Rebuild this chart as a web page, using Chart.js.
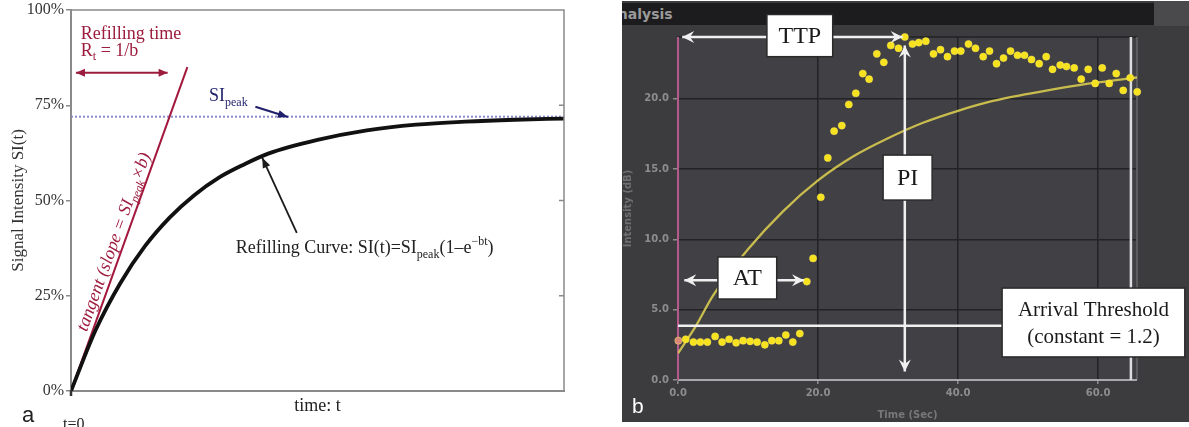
<!DOCTYPE html>
<html>
<head>
<meta charset="utf-8">
<script src="https://cdn.jsdelivr.net/npm/chart.js@4.4.0/dist/chart.umd.min.js"></script>
<style>
  html, body { margin: 0; padding: 0; background: #fff; }
  body { width: 1189px; height: 427px; position: relative; overflow: hidden; }
  #chartA { position: absolute; left: 0; top: 0; }
  #bgB { position: absolute; left: 622px; top: 1px; width: 567px; height: 421px; background: #3c3c3f; }
  #strip { position: absolute; left: 1154px; top: 1px; width: 35px; height: 25px; background: #4a4a4d; }
  #bar { position: absolute; left: 622px; top: 3px; width: 532px; height: 22px; background: #1c1c1e; overflow: hidden; }
  #bar span { position: absolute; left: -15px; top: 0; font: bold 14px 'DejaVu Sans', sans-serif; line-height: 22px; color: #9a9a9a; }
  #chartB { position: absolute; left: 622px; top: 0; }
</style>
</head>
<body>
<canvas id="chartA" width="600" height="427"></canvas>
<div id="bgB"></div>
<div id="strip"></div>
<div id="bar"><span>Analysis</span></div>
<canvas id="chartB" width="567" height="422"></canvas>
<script>
// ---- panel a: refilling model ----
const curveTime = [0, 0.25, 0.5, 0.75, 1, 1.25, 1.5, 1.75, 2, 2.5, 3, 3.5, 4, 4.5, 5];
const curveSI = [0, 16, 28.3, 38, 45.5, 51.4, 56, 59.4, 62.3, 65.9, 68.4, 69.9, 70.7, 71.2, 71.5];
const tangentTime = [0, 1.18];
const tangentSI = [0, 85];
const peakTime = [0, 5];
const peakSI = [72, 72];
const siTicks = [0, 25, 50, 75, 100];

// ---- panel b: measured time-intensity curve ----
const sampleTime = [0.05, 1.1, 2.2, 3.2, 4.2, 5.3, 6.3, 7.3, 8.3, 9.3, 10.3, 11.3, 12.4, 13.4, 14.4, 15.4, 16.4, 17.4,
  18.4, 19.3, 20.4, 21.4, 22.3, 23.4, 24.4, 25.4, 26.4, 27.3, 28.4, 29.4, 30.4, 31.5, 32.4, 33.5, 34.4, 35.4,
  36.5, 37.5, 38.5, 39.5, 40.4, 41.5, 42.5, 43.6, 44.5, 45.5, 46.5, 47.5, 48.5, 49.5, 50.5, 51.6, 52.6, 53.5,
  54.6, 55.5, 56.6, 57.6, 58.6, 59.6, 60.6, 61.6, 62.6, 63.6, 64.6, 65.6];
const sampleDb = [2.8, 2.9, 2.7, 2.7, 2.7, 3.1, 2.7, 2.9, 2.65, 2.8, 2.75, 2.7, 2.5, 2.8, 2.8, 3.2, 2.7, 3.3,
  7.0, 8.65, 13.0, 15.8, 17.7, 18.1, 19.6, 20.4, 21.8, 21.4, 23.2, 22.6, 23.8, 23.6, 24.4, 23.9, 24.0, 24.1,
  23.2, 23.5, 23.0, 23.4, 23.4, 23.9, 23.6, 23.0, 23.4, 22.5, 22.9, 23.4, 23.1, 23.1, 22.8, 22.5, 23.0, 22.1,
  22.4, 22.3, 22.2, 21.4, 22.1, 21.1, 22.2, 21.1, 21.8, 20.6, 21.5, 20.5];
const fitTime = [0, 2.5, 5, 10, 15, 20, 25, 30, 35, 40, 45, 50, 55, 60, 65.6];
const fitDb = [1.9, 3.8, 6.0, 9.3, 12.0, 14.2, 15.9, 17.2, 18.3, 19.15, 19.85, 20.35, 20.8, 21.17, 21.52];
const timeTicks = [0, 20, 40, 60];
const dbTicks = [0, 5, 10, 15, 20];
const thresholdDb = 3.86;
const ttpTime = 32.4;
const endTime = 64.7;

Chart.defaults.font.family = "'Liberation Serif', serif";

const zip = (xs, ys) => xs.map((x, i) => ({ x: x, y: ys[i] }));

function arrowHead(ctx, x1, y1, x2, y2, len, half, notch) {
  const a = Math.atan2(y2 - y1, x2 - x1);
  const c = Math.cos(a), s = Math.sin(a);
  ctx.beginPath();
  ctx.moveTo(x2, y2);
  ctx.lineTo(x2 - len * c + half * s, y2 - len * s - half * c);
  ctx.lineTo(x2 - len * (1 - notch) * c, y2 - len * (1 - notch) * s);
  ctx.lineTo(x2 - len * c - half * s, y2 - len * s + half * c);
  ctx.closePath();
  ctx.fill();
}

function arrow(ctx, x1, y1, x2, y2, opts) {
  ctx.beginPath();
  ctx.moveTo(x1, y1);
  ctx.lineTo(x2, y2);
  ctx.stroke();
  arrowHead(ctx, x1, y1, x2, y2, opts.len, opts.half, opts.notch || 0);
  if (opts.both) arrowHead(ctx, x2, y2, x1, y1, opts.len, opts.half, opts.notch || 0);
}

function richText(ctx, parts, x, y) {
  let cx = x;
  parts.forEach(p => {
    ctx.font = p.font;
    ctx.fillText(p.text, cx, y + (p.dy || 0));
    cx += ctx.measureText(p.text).width;
  });
}

const annotateA = {
  id: 'annotateA',
  afterDraw(chart) {
    const { ctx, chartArea: area, scales: { x, y } } = chart;
    ctx.save();
    // frame top / right and inner ticks
    ctx.strokeStyle = '#8a8a8a';
    ctx.lineWidth = 1.5;
    ctx.beginPath();
    ctx.moveTo(area.left, area.top);
    ctx.lineTo(area.right, area.top);
    ctx.lineTo(area.right, area.bottom);
    ctx.stroke();
    siTicks.slice(1, 4).forEach(v => {
      const py = y.getPixelForValue(v);
      ctx.beginPath();
      ctx.moveTo(area.right - 5, py);
      ctx.lineTo(area.right, py);
      ctx.stroke();
    });
    // origin mark
    ctx.strokeStyle = '#333';
    ctx.lineWidth = 2.5;
    ctx.beginPath();
    ctx.moveTo(x.getPixelForValue(0), area.bottom - 1);
    ctx.lineTo(x.getPixelForValue(0), area.bottom + 5);
    ctx.stroke();

    // refilling time
    const red = '#9d1b3d';
    ctx.strokeStyle = red;
    ctx.fillStyle = red;
    ctx.lineWidth = 2;
    const ry = y.getPixelForValue(83.5);
    arrow(ctx, x.getPixelForValue(0.05), ry, x.getPixelForValue(0.98), ry, { len: 9, half: 4, both: true });
    ctx.textBaseline = 'alphabetic';
    ctx.textAlign = 'left';
    ctx.font = "18px 'Liberation Serif'";
    ctx.fillText('Refilling time', x.getPixelForValue(0.1), y.getPixelForValue(92.4));
    richText(ctx, [
      { text: 'R', font: "18px 'Liberation Serif'" },
      { text: 't', font: "12px 'Liberation Serif'", dy: 4 },
      { text: ' = 1/b', font: "18px 'Liberation Serif'" }
    ], x.getPixelForValue(0.1), y.getPixelForValue(87.8));

    // tangent label, parallel to the tangent
    const ang = Math.atan2(y.getPixelForValue(tangentSI[1]) - y.getPixelForValue(tangentSI[0]),
                           x.getPixelForValue(tangentTime[1]) - x.getPixelForValue(tangentTime[0]));
    ctx.save();
    ctx.translate(x.getPixelForValue(0.16), y.getPixelForValue(15.4));
    ctx.rotate(ang);
    richText(ctx, [
      { text: 'tangent (slope = SI', font: "italic 18px 'Liberation Serif'" },
      { text: 'peak', font: "italic 12px 'Liberation Serif'", dy: 4 },
      { text: '\u00d7b)', font: "italic 18px 'Liberation Serif'" }
    ], 0, 0);
    ctx.restore();

    // SI peak label
    const navy = '#1f1f6b';
    ctx.fillStyle = navy;
    ctx.strokeStyle = navy;
    richText(ctx, [
      { text: 'SI', font: "18px 'Liberation Serif'" },
      { text: 'peak', font: "12px 'Liberation Serif'", dy: 5 }
    ], x.getPixelForValue(1.4), y.getPixelForValue(76.1));
    ctx.lineWidth = 2;
    arrow(ctx, x.getPixelForValue(1.87), y.getPixelForValue(74.6), x.getPixelForValue(2.2), y.getPixelForValue(71.9), { len: 10, half: 4 });

    // refilling curve pointer and formula
    ctx.fillStyle = '#1a1a1a';
    ctx.strokeStyle = '#1a1a1a';
    ctx.lineWidth = 1.8;
    arrow(ctx, x.getPixelForValue(2.29), y.getPixelForValue(41.5), x.getPixelForValue(1.94), y.getPixelForValue(61.2), { len: 10, half: 4 });
    ctx.fillStyle = '#222';
    richText(ctx, [
      { text: 'Refilling Curve: SI(t)=SI', font: "18px 'Liberation Serif'" },
      { text: 'peak', font: "12px 'Liberation Serif'", dy: 5 },
      { text: '(1\u2013e', font: "18px 'Liberation Serif'" },
      { text: '\u2212bt', font: "12px 'Liberation Serif'", dy: -8 },
      { text: ')', font: "18px 'Liberation Serif'" }
    ], x.getPixelForValue(1.67), y.getPixelForValue(36.3));

    // t=0 and panel letter
    ctx.font = "16px 'Liberation Serif'";
    ctx.fillText('t=0', 63, 429);
    ctx.font = "22px 'Liberation Sans'";
    ctx.fillText('a', 22, 422);
    ctx.restore();
  }
};

new Chart(document.getElementById('chartA'), {
  type: 'line',
  data: {
    datasets: [
      { data: zip(curveTime, curveSI), borderColor: '#111', borderWidth: 3.8, tension: 0.4, cubicInterpolationMode: 'monotone', pointRadius: 0 },
      { data: zip(tangentTime, tangentSI), borderColor: '#a3173c', borderWidth: 2, pointRadius: 0 },
      { data: zip(peakTime, peakSI), borderColor: '#8a8ac6', borderWidth: 2, borderDash: [2, 2], pointRadius: 0 }
    ]
  },
  options: {
    responsive: false,
    animation: false,
    devicePixelRatio: 1,
    layout: { padding: { top: 10, right: 36, left: 0, bottom: 0 } },
    plugins: { legend: { display: false }, tooltip: { enabled: false } },
    scales: {
      x: {
        type: 'linear', min: 0, max: 5,
        ticks: { display: false },
        grid: { display: false },
        border: { display: true, color: '#8a8a8a', width: 2 },
        title: { display: true, text: 'time: t', color: '#222', font: { size: 18 }, padding: { top: 0, bottom: 10 } },
        afterFit: s => { s.height = 36; s.paddingLeft = 0; s.paddingRight = 0; }
      },
      y: {
        min: 0, max: 100,
        afterBuildTicks: s => { s.ticks = siTicks.map(v => ({ value: v })); },
        ticks: { callback: v => v + '%', color: '#333', font: { size: 16 }, padding: 2 },
        grid: { drawOnChartArea: false, tickLength: 5, color: '#8a8a8a', lineWidth: 1.5 },
        border: { display: true, color: '#8a8a8a', width: 2 },
        title: { display: true, text: 'Signal Intensity SI(t)', color: '#333', font: { size: 17 }, padding: { top: 8, bottom: 0 } },
        afterFit: s => { s.width = 71; s.paddingTop = 0; s.paddingBottom = 0; }
      }
    }
  },
  plugins: [annotateA]
});

const annotateB = {
  id: 'annotateB',
  beforeDraw(chart) {
    const { ctx, chartArea: a } = chart;
    ctx.save();
    ctx.fillStyle = '#414145';
    ctx.fillRect(a.left, a.top, a.right - a.left, a.bottom - a.top);
    ctx.restore();
  },
  beforeDatasetsDraw(chart) {
    const { ctx, chartArea: a, scales: { x, y } } = chart;
    ctx.save();
    ctx.strokeStyle = '#222225';
    ctx.lineWidth = 1.5;
    ctx.strokeRect(a.left, a.top, a.right - a.left, a.bottom - a.top);
    ctx.strokeStyle = '#6e6e72';
    ctx.beginPath();
    ctx.moveTo(a.right, a.top);
    ctx.lineTo(a.right, a.bottom);
    ctx.stroke();
    // bottom axis
    ctx.strokeStyle = '#a9a9ad';
    ctx.lineWidth = 2;
    ctx.beginPath();
    ctx.moveTo(a.left, a.bottom);
    ctx.lineTo(a.right, a.bottom);
    ctx.stroke();
    // injection marker at t = 0
    ctx.strokeStyle = '#b65a8d';
    ctx.lineWidth = 2;
    ctx.beginPath();
    ctx.moveTo(x.getPixelForValue(0), a.top);
    ctx.lineTo(x.getPixelForValue(0), a.bottom);
    ctx.stroke();
    // end marker
    ctx.strokeStyle = '#dedede';
    ctx.lineWidth = 2.5;
    ctx.beginPath();
    ctx.moveTo(x.getPixelForValue(endTime), a.top);
    ctx.lineTo(x.getPixelForValue(endTime), a.bottom);
    ctx.stroke();
    ctx.restore();
  },
  afterDatasetsDraw(chart) {
    const { ctx, scales: { x, y } } = chart;
    const px = t => x.getPixelForValue(t);
    const py = v => y.getPixelForValue(v);
    ctx.save();
    ctx.strokeStyle = '#f0f0f0';
    ctx.fillStyle = '#f0f0f0';
    ctx.lineWidth = 2.5;

    // arrival threshold line
    ctx.beginPath();
    ctx.moveTo(px(0), py(thresholdDb));
    ctx.lineTo(px(46.3), py(thresholdDb));
    ctx.stroke();

    const head = { len: 12, half: 6, notch: 0.35, both: true };
    arrow(ctx, px(0.6), py(24.4), px(ttpTime - 0.3), py(24.4), head);
    arrow(ctx, px(ttpTime), py(23.8), px(ttpTime), py(0.6), head);
    arrow(ctx, px(0.9), py(7.1), px(18.0), py(7.1), head);

    function box(t1, v1, t2, v2, lines, font, lineGap) {
      const x1 = px(t1), y1 = py(v1), x2 = px(t2), y2 = py(v2);
      ctx.fillStyle = '#ffffff';
      ctx.fillRect(x1, y1, x2 - x1, y2 - y1);
      ctx.strokeStyle = '#2a2a2a';
      ctx.lineWidth = 1.5;
      ctx.strokeRect(x1, y1, x2 - x1, y2 - y1);
      ctx.fillStyle = '#1a1a1a';
      ctx.font = font;
      ctx.textAlign = 'center';
      ctx.textBaseline = 'middle';
      const cy = (y1 + y2) / 2 - (lines.length - 1) * lineGap / 2;
      lines.forEach((l, i) => ctx.fillText(l, (x1 + x2) / 2, cy + i * lineGap + 1));
    }
    box(12.7, 26.0, 22.1, 23.0, ['TTP'], "24px 'Liberation Serif'", 0);
    box(29.3, 16.0, 36.3, 12.8, ['PI'], "24px 'Liberation Serif'", 0);
    box(5.7, 8.75, 14.1, 5.76, ['AT'], "24px 'Liberation Serif'", 0);
    box(46.3, 6.54, 72.4, 1.64, ['Arrival Threshold', '(constant = 1.2)'], "21px 'Liberation Serif'", 27);

    ctx.fillStyle = '#ffffff';
    ctx.textAlign = 'left';
    ctx.textBaseline = 'alphabetic';
    ctx.font = "21px 'Liberation Sans'";
    ctx.fillText('b', 10, 413);
    ctx.restore();
  }
};

const tickFont = { family: "'DejaVu Sans', sans-serif", size: 10, weight: 'bold' };

new Chart(document.getElementById('chartB'), {
  type: 'scatter',
  data: {
    datasets: [
      {
        data: zip(sampleTime, sampleDb),
        pointRadius: 3.6,
        pointBackgroundColor: sampleTime.map((t, i) => i === 0 ? '#d8867a' : '#f6e21e'),
        pointBorderColor: 'rgba(255, 236, 90, 0.45)',
        pointBorderWidth: 1,
        clip: false
      },
      {
        type: 'line',
        data: zip(fitTime, fitDb),
        borderColor: '#c9bc4e',
        borderWidth: 2.3,
        tension: 0.4,
        cubicInterpolationMode: 'monotone',
        pointRadius: 0
      }
    ]
  },
  options: {
    responsive: false,
    animation: false,
    devicePixelRatio: 1,
    layout: { padding: { top: 37, right: 52, left: 0, bottom: 0 } },
    plugins: { legend: { display: false }, tooltip: { enabled: false } },
    scales: {
      x: {
        type: 'linear', min: 0, max: 65.57,
        afterBuildTicks: s => { s.ticks = timeTicks.map(v => ({ value: v })); },
        ticks: { callback: v => v.toFixed(1), color: '#8d8d8f', font: tickFont, padding: 3, maxRotation: 0 },
        grid: { color: '#232326', lineWidth: 1.5, tickLength: 4, tickColor: '#8d8d8f' },
        border: { display: false },
        title: { display: true, text: 'Time (Sec)', color: '#77777a', font: tickFont, padding: { top: 0, bottom: 1 } },
        afterFit: s => { s.height = 42; s.paddingLeft = 0; s.paddingRight = 0; }
      },
      y: {
        min: 0, max: 24.4,
        afterBuildTicks: s => { s.ticks = dbTicks.map(v => ({ value: v })); },
        ticks: { callback: v => v.toFixed(1), color: '#8d8d8f', font: tickFont, padding: 4 },
        grid: { color: '#232326', lineWidth: 1.5, tickLength: 5, tickColor: '#8d8d8f' },
        border: { display: false },
        title: { display: true, text: 'Intensity (dB)', color: '#6f6f72', font: tickFont, padding: { top: 0, bottom: 0 } },
        afterFit: s => { s.width = 56; s.paddingTop = 0; s.paddingBottom = 0; }
      }
    }
  },
  plugins: [annotateB]
});
</script>
</body>
</html>
